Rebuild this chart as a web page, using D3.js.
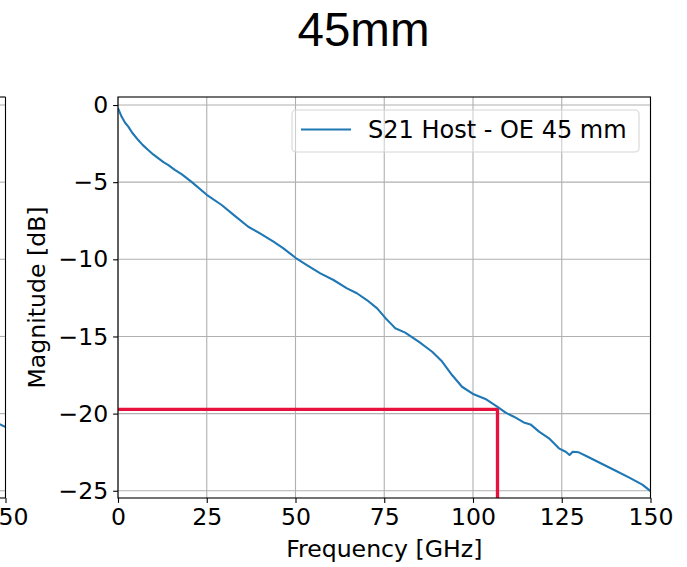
<!DOCTYPE html>
<html>
<head>
<meta charset="utf-8">
<script src="https://cdn.jsdelivr.net/npm/d3@7"></script>
<style>
  html, body { margin: 0; padding: 0; background: #fff; }
  svg { display: block; }
  text { font-family: "DejaVu Sans", sans-serif; fill: #000; }
</style>
</head>
<body>
<script>
// ---- data ----
const freqGHz = [0, 1, 2, 2.9, 4, 5.7, 7, 8.5, 10, 11.4, 12.8, 14.2, 16, 18, 20.8, 25, 29.2, 33, 36.7, 40,
  43.8, 46.6, 50, 53.2, 57, 60.7, 64.5, 67.3, 70.1, 73, 75.3, 77, 78.1, 80.9, 84.7, 88.5, 91.3, 94.1,
  96.9, 100.2, 103.5, 106.8, 109.2, 111.5, 114.3, 116.2, 118.6, 121.4, 124.2, 126.1, 127.2, 128.1,
  129.8, 132.6, 136.4, 140.2, 143.9, 147.7, 150];
const s21dB = [-0.2, -0.75, -1.15, -1.4, -1.8, -2.27, -2.6, -2.92, -3.22, -3.46, -3.7, -3.89, -4.2, -4.5, -5.0, -5.82, -6.48, -7.2, -7.89, -8.32,
  -8.86, -9.29, -9.9, -10.37, -10.91, -11.34, -11.88, -12.2, -12.64, -13.18, -13.8, -14.2, -14.47, -14.75, -15.34, -15.99, -16.63, -17.5,
  -18.26, -18.75, -19.05, -19.55, -19.94, -20.2, -20.57, -20.7, -21.17, -21.6, -22.25, -22.47, -22.68, -22.47,
  -22.51, -22.83, -23.27, -23.7, -24.13, -24.6, -25.02];
const seriesLabel = "S21 Host - OE 45 mm";
const markerFreq = 106.9;
const markerDb = -19.72;
const xTickValues = [0, 25, 50, 75, 100, 125, 150];
const yTickValues = [0, -5, -10, -15, -20, -25];
const xDomain = [0, 150];
const yDomain = [-25.47, 0.52];
// neighbouring (cropped) panel on the left
const leftFreqGHz = [145, 147.5, 150];
const leftDb = [-20.35, -20.6, -20.87];
const titleText = "45mm";
const xLabel = "Frequency [GHz]";
const yLabel = "Magnitude [dB]";

// ---- layout ----
const W = 687, H = 567;
const plot = { left: 118, right: 650.5, top: 97, bottom: 498 };
const FS = 23.6;
const blue = "#1f77b4", red = "#e8103c", grid = "#b0b0b0";

const svg = d3.select("body").append("svg").attr("width", W).attr("height", H)
  .style("background", "#fff");

const x = d3.scaleLinear().domain(xDomain).range([plot.left, plot.right]);
const y = d3.scaleLinear().domain(yDomain).range([plot.bottom, plot.top]);
const fmt = d3.format("d");

svg.append("defs").append("clipPath").attr("id", "clipMain")
  .append("rect").attr("x", plot.left).attr("y", plot.top)
  .attr("width", plot.right - plot.left).attr("height", plot.bottom - plot.top);

// ---- left cropped panel ----
const leftRightEdge = 5.5;
const xl = d3.scaleLinear().domain(xDomain)
  .range([leftRightEdge - (plot.right - plot.left), leftRightEdge]);
const gl = svg.append("g");
gl.selectAll("line.hg").data(yTickValues).join("line")
  .attr("x1", 0).attr("x2", leftRightEdge)
  .attr("y1", d => y(d)).attr("y2", d => y(d))
  .attr("stroke", grid).attr("stroke-width", 1.1);
gl.append("path").datum(leftFreqGHz.map((f, i) => [f, leftDb[i]]))
  .attr("fill", "none").attr("stroke", blue).attr("stroke-width", 2.1)
  .attr("d", d3.line().x(d => xl(d[0])).y(d => y(d[1])));
gl.append("line").attr("x1", 0).attr("x2", leftRightEdge).attr("y1", plot.top).attr("y2", plot.top)
  .attr("stroke", "#000").attr("stroke-width", 1.1);
gl.append("line").attr("x1", 0).attr("x2", leftRightEdge).attr("y1", plot.bottom).attr("y2", plot.bottom)
  .attr("stroke", "#000").attr("stroke-width", 1.1);
gl.append("line").attr("x1", leftRightEdge).attr("x2", leftRightEdge).attr("y1", plot.top).attr("y2", plot.bottom)
  .attr("stroke", "#000").attr("stroke-width", 1.1);
const leftAxis = svg.append("g").attr("transform", `translate(0,${plot.bottom})`)
  .call(d3.axisBottom(xl).tickValues([150]).tickFormat(fmt).tickSize(4.9).tickPadding(4.9));
leftAxis.select(".domain").remove();
leftAxis.selectAll("line").attr("stroke", "#000").attr("stroke-width", 1.1);
leftAxis.selectAll("text").style("font-size", FS + "px").style("font-family", "DejaVu Sans").attr("fill", "#000");

// ---- grid ----
const gGrid = svg.append("g");
gGrid.selectAll("line.vg").data(xTickValues).join("line")
  .attr("x1", d => x(d)).attr("x2", d => x(d))
  .attr("y1", plot.top).attr("y2", plot.bottom)
  .attr("stroke", grid).attr("stroke-width", 1.1);
gGrid.selectAll("line.hg").data(yTickValues).join("line")
  .attr("x1", plot.left).attr("x2", plot.right)
  .attr("y1", d => y(d)).attr("y2", d => y(d))
  .attr("stroke", grid).attr("stroke-width", 1.1);

// ---- marker lines (red) ----
const gData = svg.append("g").attr("clip-path", "url(#clipMain)");
gData.append("path")
  .datum([[xDomain[0], markerDb], [markerFreq, markerDb], [markerFreq, yDomain[0] - 1]])
  .attr("fill", "none").attr("stroke", red).attr("stroke-width", 3.3)
  .attr("d", d3.line().x(d => x(d[0])).y(d => y(d[1])));

// ---- S21 curve ----
gData.append("path").datum(freqGHz.map((f, i) => [f, s21dB[i]]))
  .attr("fill", "none").attr("stroke", blue).attr("stroke-width", 2.1)
  .attr("stroke-linejoin", "round")
  .attr("d", d3.line().x(d => x(d[0])).y(d => y(d[1])));

// ---- axes ----
const ax = svg.append("g").attr("transform", `translate(0,${plot.bottom})`)
  .call(d3.axisBottom(x).tickValues(xTickValues).tickFormat(fmt).tickSize(4.9).tickPadding(4.9));
const ay = svg.append("g").attr("transform", `translate(${plot.left},0)`)
  .call(d3.axisLeft(y).tickValues(yTickValues).tickFormat(fmt).tickSize(4.9).tickPadding(4.9));
[ax, ay].forEach(g => {
  g.select(".domain").remove();
  g.selectAll("line").attr("stroke", "#000").attr("stroke-width", 1.1);
  g.selectAll("text").style("font-size", FS + "px").style("font-family", "DejaVu Sans").attr("fill", "#000");
});

// spines
svg.append("rect").attr("x", plot.left).attr("y", plot.top)
  .attr("width", plot.right - plot.left).attr("height", plot.bottom - plot.top)
  .attr("fill", "none").attr("stroke", "#000").attr("stroke-width", 1.1);

// ---- legend ----
const lg = svg.append("g");
lg.append("rect").attr("x", 292).attr("y", 110).attr("width", 347).attr("height", 42)
  .attr("rx", 4).attr("fill", "#fff").attr("fill-opacity", 0.4)
  .attr("stroke", "#d5d5d5").attr("stroke-width", 1.1);
lg.append("line").attr("x1", 301).attr("x2", 351).attr("y1", 129.5).attr("y2", 129.5)
  .attr("stroke", blue).attr("stroke-width", 2.1);
lg.append("text").attr("x", 368).attr("y", 138).style("font-size", "24px").text(seriesLabel);

// ---- labels ----
svg.append("text").attr("x", (plot.left + plot.right) / 2).attr("y", 557)
  .attr("text-anchor", "middle").style("font-size", FS + "px").text(xLabel);
svg.append("text").attr("transform", `translate(45,${(plot.top + plot.bottom) / 2}) rotate(-90)`)
  .attr("text-anchor", "middle").style("font-size", FS + "px").text(yLabel);
svg.append("text").attr("x", 363.5).attr("y", 45.5).attr("text-anchor", "middle")
  .style("font-family", "'Liberation Sans', Arial, sans-serif").style("font-size", "47.5px").text(titleText);
</script>
</body>
</html>
